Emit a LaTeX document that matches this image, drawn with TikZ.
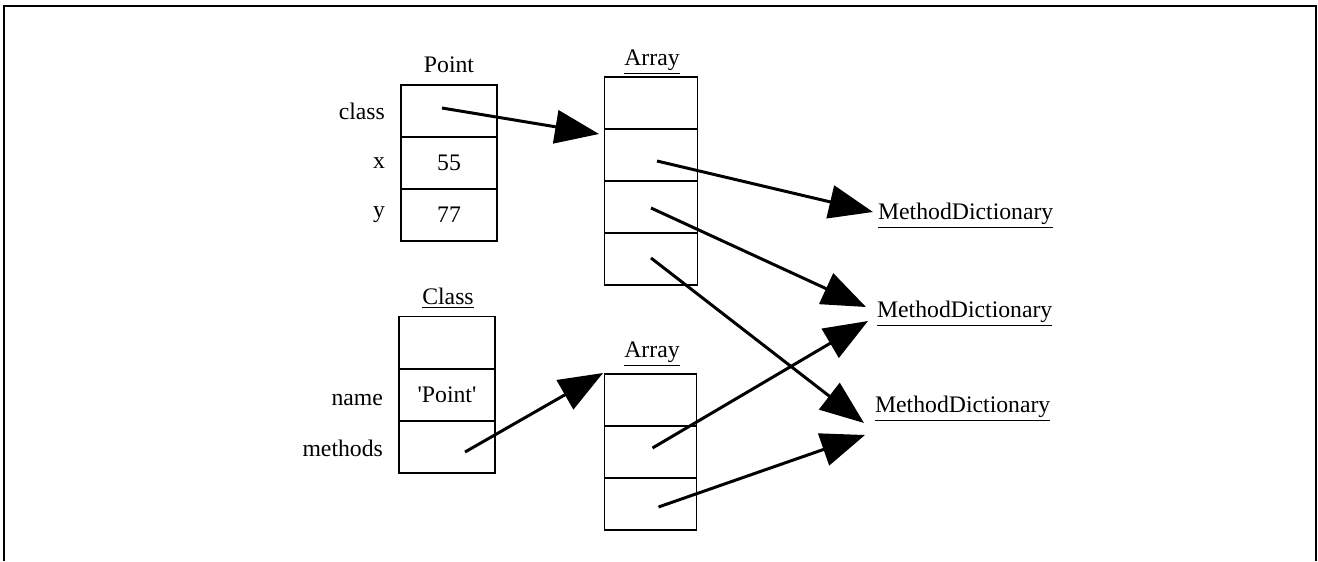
\documentclass[tikz,border=0pt]{standalone}
\usepackage{fontspec}
\setmainfont{Liberation Serif}
\usetikzlibrary{arrows.meta,calc}

\begin{document}
\begin{tikzpicture}[x=0.02cm,y=-0.02cm,
  txt/.style={font=\fontsize{13.5}{15}\selectfont, inner sep=1pt},
  slot/.style={txt, draw, line width=0.8pt, inner sep=0pt, minimum height=1.04cm},
  ptslot/.style={slot, minimum width=1.92cm},
  arslot/.style={slot, minimum width=1.85cm},
  field/.style={txt, anchor=east},
  title/.style={txt},
  ptr/.style={line width=1.7pt, -{Triangle[length=25pt,width=19pt]}},
]
\useasboundingbox (0,0) rectangle (1318,561);

% open frame
\draw[line width=0.9pt] (4,561) -- (4,6) -- (1316,6) -- (1316,561);

% Point instance
\node[title] (tpoint) at (449,65) {Point};
\node[ptslot] (p1) at (449,111) {};
\node[ptslot] (p2) at (449,163) {55};
\node[ptslot] (p3) at (449,215) {77};
\node[field] (lclass) at (387,111) {class};
\node[field] (lx) at (387,163) {x};
\node[field] (ly) at (387,215) {y};

% first Array
\node[title] (tarr1) at (652,62) {\underline{Array}};
\node[arslot] (a1) at (651,103) {};
\node[arslot] (a2) at (651,155) {};
\node[arslot] (a3) at (651,207) {};
\node[arslot] (a4) at (651,259) {};

% Class object
\node[title] (tclass) at (448,298) {\underline{Class}};
\node[ptslot] (c1) at (447,342.5) {};
\node[ptslot] (c2) at (447,395) {\textquotesingle Point\textquotesingle};
\node[ptslot] (c3) at (447,447) {};
\node[field] (lname) at (385,400) {name};
\node[field] (lmeth) at (385,448) {methods};

% second Array
\node[title] (tarr2) at (652,354) {\underline{Array}};
\node[arslot] (b1) at (650.5,400) {};
\node[arslot] (b2) at (650.5,452) {};
\node[arslot] (b3) at (650.5,504) {};

% method dictionaries
\node[txt, anchor=west] (md1) at (876,216) {\underline{MethodDictionary}};
\node[txt, anchor=west] (md2) at (875,314) {\underline{MethodDictionary}};
\node[txt, anchor=west] (md3) at (873,409) {\underline{MethodDictionary}};

% arrow tips
\coordinate (e1) at (599,134);
\coordinate (e2) at (873,212);
\coordinate (e3) at (866,307);
\coordinate (e4) at (864,423);
\coordinate (e5) at (603,373);
\coordinate (e6) at (868,321);
\coordinate (e7) at (865,435);

% pointers
\draw[ptr] ($(p1.center)+(-7,-3)$) -- (e1);
\draw[ptr] ($(a2.center)+(6,6)$) -- (e2);
\draw[ptr] ($(a3.center)+(0,1)$) -- (e3);
\draw[ptr] ($(a4.center)+(0,-1)$) -- (e4);
\draw[ptr] ($(c3.center)+(18,5)$) -- (e5);
\draw[ptr] ($(b2.center)+(2,-4)$) -- (e6);
\draw[ptr] ($(b3.center)+(8,3)$) -- (e7);
\end{tikzpicture}
\end{document}
